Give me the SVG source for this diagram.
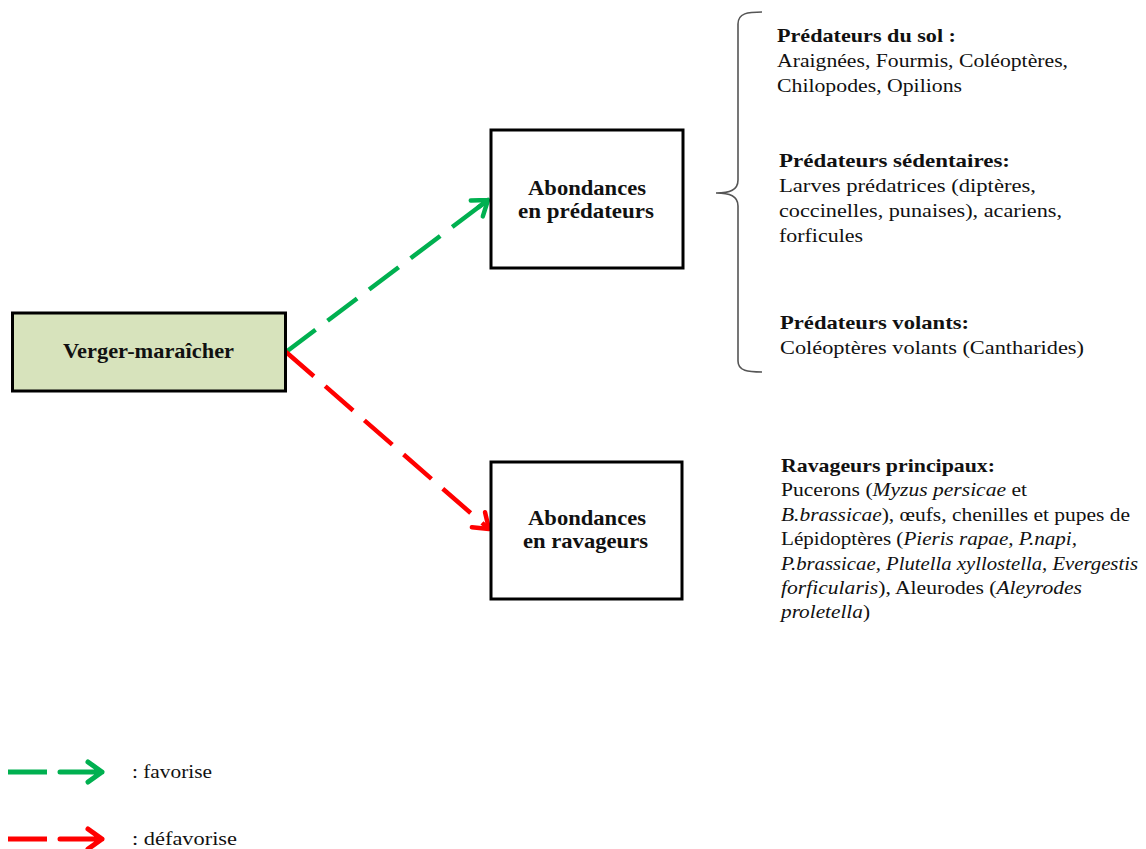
<svg xmlns="http://www.w3.org/2000/svg" width="1146" height="849" viewBox="0 0 1146 849">
<style>
  text { font-family: "Liberation Serif", "Times New Roman", serif; fill: #111; }
  .t { font-size: 19px; }
  .h { font-size: 19px; font-weight: bold; }
  .lbl { font-size: 21px; font-weight: bold; text-anchor: middle; }
  .box { fill: #ffffff; stroke: #000; stroke-width: 3; }
  .boxg { fill: #D7E3BC; stroke: #000; stroke-width: 3; }
  .g { stroke: #00B050; stroke-width: 4.5; fill: none; stroke-dasharray: 37 15; }
  .r { stroke: #FF0000; stroke-width: 4.5; fill: none; stroke-dasharray: 37 15; }
  .lg { stroke: #00B050; stroke-width: 5; fill: none; }
  .lr { stroke: #FF0000; stroke-width: 5; fill: none; }
  .brace { stroke: #555; stroke-width: 1.6; fill: none; }
</style>
<defs>
  <marker id="ag" markerUnits="userSpaceOnUse" markerWidth="30" markerHeight="30" viewBox="-20 -15 30 30" refX="0" refY="0" orient="auto" overflow="visible">
    <path d="M-14,-10 L0,0 L-14,10 M-12,0 L0,0" fill="none" stroke="#00B050" stroke-width="4.5" stroke-linecap="round" stroke-linejoin="round"/>
  </marker>
  <marker id="ar" markerUnits="userSpaceOnUse" markerWidth="30" markerHeight="30" viewBox="-20 -15 30 30" refX="0" refY="0" orient="auto" overflow="visible">
    <path d="M-14,-10 L0,0 L-14,10" fill="none" stroke="#FF0000" stroke-width="4.5" stroke-linecap="round" stroke-linejoin="round"/>
  </marker>
</defs>
<rect width="1146" height="849" fill="#ffffff"/>

<g id="connectors">
  <line class="g" x1="286" y1="352" x2="488" y2="200" marker-end="url(#ag)"/>
  <line class="r" x1="286" y1="352" x2="489" y2="529" marker-end="url(#ar)"/>
</g>

<g id="node-verger">
  <rect class="boxg" x="12.5" y="313" width="273" height="78"/>
  <text class="lbl" x="148.5" y="358" textLength="171" lengthAdjust="spacingAndGlyphs">Verger-maraîcher</text>
</g>

<g id="node-predateurs">
  <rect class="box" x="491" y="130" width="192" height="138"/>
  <text class="lbl" x="587" y="195" textLength="118" lengthAdjust="spacingAndGlyphs">Abondances</text>
  <text class="lbl" x="586" y="218" textLength="136" lengthAdjust="spacingAndGlyphs">en prédateurs</text>
</g>

<g id="node-ravageurs">
  <rect class="box" x="491" y="462" width="191" height="137"/>
  <text class="lbl" x="587" y="525" textLength="118" lengthAdjust="spacingAndGlyphs">Abondances</text>
  <text class="lbl" x="585.5" y="548" textLength="125" lengthAdjust="spacingAndGlyphs">en ravageurs</text>
</g>

<g id="brace">
  <path class="brace" d="M762,12 C748,12 738,13 738,24 L738,180 C738,190 730,193 716,193 C730,193 738,196 738,206 L738,361 C738,371 748,372 762,372"/>
</g>

<g id="predateurs-list">
  <text class="h" x="777" y="42" textLength="179" lengthAdjust="spacingAndGlyphs">Prédateurs du sol :</text>
  <text class="t" x="777" y="67" textLength="291" lengthAdjust="spacingAndGlyphs">Araignées, Fourmis, Coléoptères,</text>
  <text class="t" x="777" y="92" textLength="185" lengthAdjust="spacingAndGlyphs">Chilopodes, Opilions</text>
  <text class="h" x="779" y="167" textLength="231" lengthAdjust="spacingAndGlyphs">Prédateurs sédentaires:</text>
  <text class="t" x="779" y="192" textLength="257" lengthAdjust="spacingAndGlyphs">Larves prédatrices (diptères,</text>
  <text class="t" x="779" y="217" textLength="283" lengthAdjust="spacingAndGlyphs">coccinelles, punaises), acariens,</text>
  <text class="t" x="779" y="242" textLength="84" lengthAdjust="spacingAndGlyphs">forficules</text>
  <text class="h" x="780" y="329" textLength="189" lengthAdjust="spacingAndGlyphs">Prédateurs volants:</text>
  <text class="t" x="780" y="354" textLength="304" lengthAdjust="spacingAndGlyphs">Coléoptères volants (Cantharides)</text>
</g>

<g id="ravageurs-list">
  <text class="h" x="781" y="472" textLength="214" lengthAdjust="spacingAndGlyphs">Ravageurs principaux:</text>
  <text class="t" x="781" y="496" textLength="246" lengthAdjust="spacingAndGlyphs">Pucerons (<tspan font-style="italic">Myzus persicae</tspan> et</text>
  <text class="t" x="781" y="521" textLength="349" lengthAdjust="spacingAndGlyphs"><tspan font-style="italic">B.brassicae</tspan>), œufs, chenilles et pupes de</text>
  <text class="t" x="781" y="545" textLength="296" lengthAdjust="spacingAndGlyphs">Lépidoptères (<tspan font-style="italic">Pieris rapae, P.napi,</tspan></text>
  <text class="t" x="781" y="570" textLength="357" lengthAdjust="spacingAndGlyphs" font-style="italic">P.brassicae, Plutella xyllostella, Evergestis</text>
  <text class="t" x="781" y="594" textLength="301" lengthAdjust="spacingAndGlyphs"><tspan font-style="italic">forficularis</tspan>), Aleurodes (<tspan font-style="italic">Aleyrodes</tspan></text>
  <text class="t" x="781" y="618" textLength="89" lengthAdjust="spacingAndGlyphs"><tspan font-style="italic">proletella</tspan>)</text>
</g>

<g id="legend">
  <line class="lg" x1="8" y1="772" x2="47" y2="772"/>
  <path class="lg" d="M60,772 L102,772 M88,762 L102,772 L88,782" stroke-linecap="round" stroke-linejoin="round"/>
  <text class="t" x="132" y="778" textLength="80" lengthAdjust="spacingAndGlyphs">: favorise</text>
  <line class="lr" x1="8" y1="839" x2="47" y2="839"/>
  <path class="lr" d="M60,839 L102,839 M88,829 L102,839 L88,849" stroke-linecap="round" stroke-linejoin="round"/>
  <text class="t" x="132" y="845" textLength="105" lengthAdjust="spacingAndGlyphs">: défavorise</text>
</g>
</svg>
